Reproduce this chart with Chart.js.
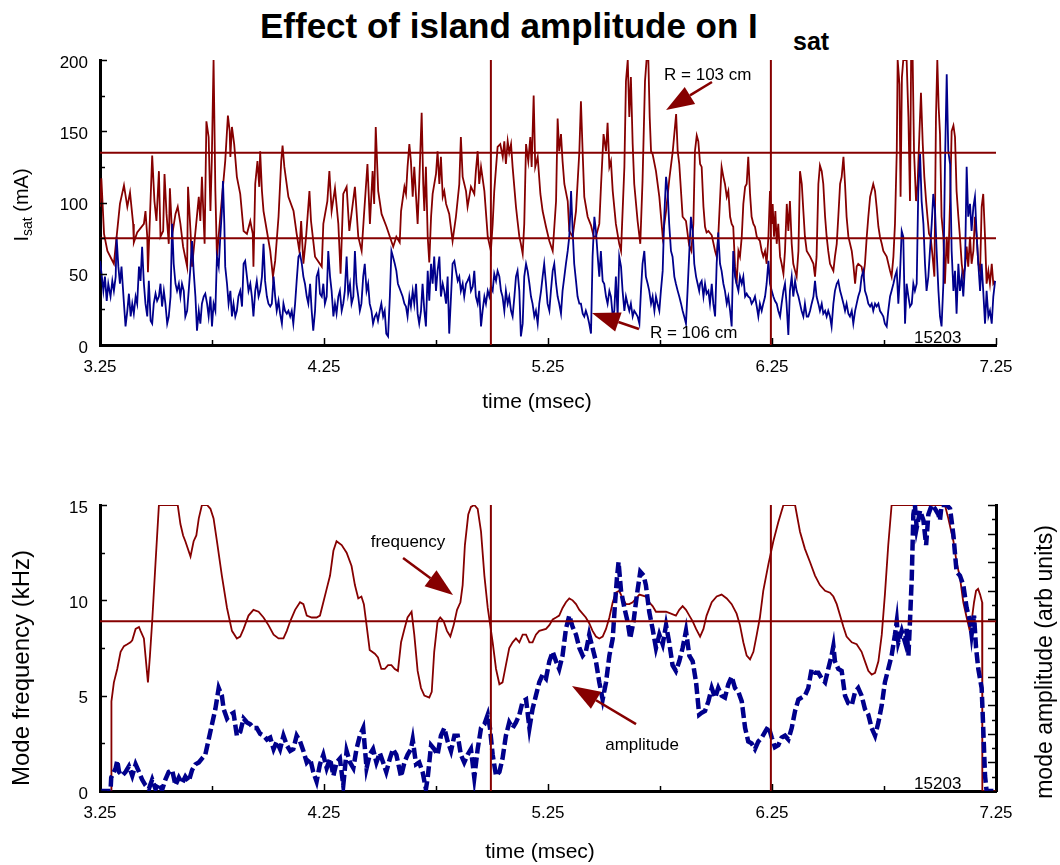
<!DOCTYPE html>
<html>
<head>
<meta charset="utf-8">
<script src="https://cdn.jsdelivr.net/npm/chart.js@4.4.0/dist/chart.umd.min.js"></script>
<style>
  body { margin:0; background:#fff; width:1060px; height:865px; position:relative; overflow:hidden;
         font-family:"Liberation Sans", Arial, sans-serif; color:#000; }
  #title { position:absolute; left:260px; top:6px; font-weight:bold; font-size:35px; line-height:40px; white-space:nowrap; }
  #titleSub { position:absolute; left:793px; top:26px; font-weight:bold; font-size:25px; line-height:30px; }
  canvas { position:absolute; left:0; }
  #isatChart { top:0; }
  #modeChart { top:440px; }
</style>
</head>
<body>
<div id="title">Effect of island amplitude on I</div>
<div id="titleSub">sat</div>
<canvas id="isatChart" width="1060" height="440"></canvas>
<canvas id="modeChart" width="1060" height="425"></canvas>
<script>
// ---- axes ----
const timeTicks  = [3.25, 3.75, 4.25, 4.75, 5.25, 5.75, 6.25, 6.75, 7.25];
const timeLabels = ['3.25', '', '4.25', '', '5.25', '', '6.25', '', '7.25'];
const isatTicks  = [0, 25, 50, 75, 100, 125, 150, 175, 200];
const isatLabels = ['0', '', '50', '', '100', '', '150', '', '200'];
const freqTicks  = [0, 2.5, 5, 7.5, 10, 12.5, 15];
const freqLabels = ['0', '', '5', '', '10', '', '15'];
const ampTicks   = [0, 0.75, 1.5, 2.25, 3, 3.75, 4.5, 5.25, 6, 6.75, 7.5, 8.25, 9, 9.75, 10.5, 11.25, 12, 12.75, 13.5, 14.25, 15];

// reference lines
const isatLevels = [135, 75];
const freqLevels = [8.9];
const markTimes  = [4.995, 6.245];

// ---- Isat at R = 103 cm  [time (msec), mA] ----
const isat103 = [
[3.250,97],[3.256,117],[3.268,78],[3.283,66],[3.312,57],[3.339,99],[3.357,112],[3.372,97],[3.384,107],[3.398,85],[3.401,72],[3.416,79],[3.446,85],[3.453,94],[3.461,76],[3.464,51],[3.473,90],[3.483,133],[3.493,101],[3.502,87],[3.513,122],[3.520,76],[3.532,80],[3.538,120],[3.547,92],[3.557,71],[3.562,110],[3.572,77],[3.587,92],[3.597,97],[3.609,85],[3.621,69],[3.639,55],[3.643,111],[3.654,80],[3.661,55],[3.691,104],[3.698,87],[3.705,118],[3.717,71],[3.725,157],[3.735,146],[3.743,94],[3.749,129],[3.757,200],[3.765,108],[3.772,62],[3.787,90],[3.809,129],[3.821,161],[3.829,150],[3.832,132],[3.839,153],[3.849,141],[3.861,118],[3.876,106],[3.891,80],[3.906,78],[3.921,87],[3.932,78],[3.935,55],[3.943,113],[3.953,129],[3.961,111],[3.965,136],[3.973,108],[3.980,94],[3.995,80],[4.010,66],[4.022,48],[4.032,59],[4.047,90],[4.059,129],[4.065,140],[4.073,125],[4.091,104],[4.114,94],[4.128,78],[4.140,66],[4.148,87],[4.158,57],[4.170,76],[4.185,108],[4.192,87],[4.210,62],[4.240,55],[4.247,85],[4.265,101],[4.274,122],[4.284,94],[4.299,110],[4.314,85],[4.324,50],[4.336,106],[4.351,111],[4.363,80],[4.388,111],[4.403,76],[4.418,66],[4.428,90],[4.444,127],[4.455,85],[4.467,122],[4.474,99],[4.481,153],[4.492,108],[4.507,92],[4.529,83],[4.544,76],[4.559,69],[4.573,76],[4.588,72],
[4.594,94],[4.609,111],[4.616,106],[4.623,125],[4.631,141],[4.638,129],[4.646,104],[4.653,125],[4.661,104],[4.668,85],[4.675,113],[4.686,163],[4.693,113],[4.698,94],[4.705,125],[4.713,76],[4.720,58],[4.728,90],[4.735,106],[4.750,120],[4.757,136],[4.765,113],[4.772,132],[4.780,104],[4.787,108],[4.795,99],[4.809,92],[4.824,73],[4.839,90],[4.854,113],[4.861,146],[4.869,118],[4.884,108],[4.891,97],[4.906,111],[4.921,106],[4.928,122],[4.936,136],[4.943,113],[4.951,125],[4.966,108],[4.981,76],[4.995,66],[5.003,85],[5.010,108],[5.025,139],[5.037,141],[5.048,132],[5.055,143],[5.062,127],[5.070,143],[5.077,135],[5.085,141],[5.092,125],[5.107,97],[5.114,87],[5.122,76],[5.129,71],[5.137,64],[5.144,85],[5.152,141],[5.162,129],[5.171,146],[5.177,125],[5.186,175],[5.193,125],[5.204,132],[5.216,106],[5.226,94],[5.241,83],[5.256,73],[5.271,66],[5.286,101],[5.293,159],[5.300,136],[5.308,148],[5.315,129],[5.323,113],[5.338,101],[5.345,80],[5.360,76],[5.375,94],[5.390,136],[5.397,171],[5.405,134],[5.412,104],[5.427,90],[5.442,84],[5.454,76],[5.464,76],[5.479,85],[5.487,113],[5.498,148],[5.509,136],[5.516,156],[5.524,125],[5.531,129],[5.539,108],[5.553,85],[5.568,71],[5.576,66],[5.591,125],[5.598,185],[5.606,200],[5.613,160],[5.620,188],[5.628,141],[5.635,113],[5.650,87],[5.662,71],[5.672,115],[5.683,185],[5.690,200],[5.698,200],[5.704,160],[5.710,136],[5.717,134],[5.732,122],[5.747,104],[5.762,76],[5.777,94],[5.792,117],[5.807,136],[5.822,162],[5.829,136],[5.836,127],[5.851,90],[5.866,87],[5.880,70],[5.890,66],[5.899,85],[5.906,136],[5.914,147],
[5.921,143],[5.929,127],[5.936,125],[5.944,97],[5.951,83],[5.958,79],[5.966,80],[5.981,77],[5.996,66],[6.003,62],[6.010,76],[6.025,125],[6.033,118],[6.040,113],[6.048,104],[6.055,108],[6.063,90],[6.070,85],[6.077,83],[6.085,55],[6.092,43],[6.100,66],[6.107,62],[6.115,76],[6.122,99],[6.130,111],[6.137,113],[6.144,132],[6.152,106],[6.159,90],[6.167,85],[6.174,83],[6.182,76],[6.196,73],[6.204,66],[6.211,62],[6.219,66],[6.226,57],[6.234,76],[6.241,108],[6.249,85],[6.253,99],[6.259,76],[6.265,94],[6.271,71],[6.278,85],[6.286,62],[6.293,57],[6.301,50],[6.308,66],[6.316,99],[6.323,80],[6.330,101],[6.338,71],[6.345,57],[6.353,52],[6.360,48],[6.368,66],[6.375,122],[6.383,113],[6.390,94],[6.397,76],[6.405,66],[6.420,62],[6.435,57],[6.442,48],[6.449,62],[6.457,113],[6.464,126],[6.472,122],[6.479,113],[6.487,90],[6.494,76],[6.501,66],[6.509,57],[6.524,52],[6.531,62],[6.539,71],[6.546,90],[6.554,113],[6.561,118],[6.569,132],[6.576,113],[6.583,90],[6.591,76],[6.606,66],[6.613,57],[6.621,43],[6.628,55],[6.635,57],[6.650,55],[6.658,48],[6.665,57],[6.673,76],[6.680,90],[6.688,104],[6.702,113],[6.710,108],[6.717,97],[6.725,83],[6.732,76],[6.740,71],[6.747,66],[6.762,62],[6.777,52],[6.784,48],[6.792,62],[6.799,85],[6.807,136],[6.811,200],[6.819,183],[6.824,104],[6.830,188],[6.836,200],[6.851,200],[6.859,160],[6.866,101],[6.871,200],[6.878,200],[6.884,136],[6.893,101],[6.900,113],[6.908,148],[6.915,177],[6.923,141],[6.930,118],[6.938,101],[6.944,90],[6.951,78],[6.958,76],[6.967,62],[6.975,48],[6.982,160],[6.988,200],[6.994,167],[7.000,148],[7.007,90],[7.015,76],[7.022,43],[7.030,76],[7.037,57],[7.045,101],[7.052,150],[7.060,154],[7.067,146],[7.074,108],[7.082,90],[7.089,76],[7.097,57],[7.104,48],[7.112,55],[7.119,69],[7.126,55],[7.134,76],[7.141,57],[7.149,66],[7.156,90],[7.164,76],[7.171,57],[7.179,52],[7.186,97],[7.193,106],[7.201,76],[7.208,43],[7.216,52],[7.223,43],[7.231,57],[7.238,43],[7.246,45]
];

// ---- Isat at R = 106 cm  [time (msec), mA] ----
const isat106 = [
[3.250,59],[3.257,50],[3.265,38],[3.272,48],[3.280,31],[3.287,43],[3.297,34],[3.305,45],[3.312,38],[3.320,48],[3.324,76],[3.332,55],[3.339,43],[3.346,55],[3.357,29],[3.364,13],[3.372,24],[3.379,36],[3.387,20],[3.394,29],[3.401,22],[3.409,34],[3.416,29],[3.424,55],[3.431,45],[3.438,69],[3.446,43],[3.453,29],[3.461,20],[3.468,45],[3.476,17],[3.483,15],[3.490,29],[3.498,36],[3.505,31],[3.513,34],[3.520,43],[3.527,27],[3.535,38],[3.542,29],[3.550,15],[3.557,20],[3.565,34],[3.572,85],[3.579,57],[3.587,43],[3.594,38],[3.602,43],[3.609,34],[3.616,43],[3.624,38],[3.631,20],[3.639,24],[3.646,38],[3.654,55],[3.661,73],[3.668,52],[3.676,34],[3.683,10],[3.691,24],[3.698,15],[3.705,29],[3.713,34],[3.720,36],[3.728,29],[3.735,20],[3.743,34],[3.750,13],[3.757,29],[3.765,24],[3.772,62],[3.780,55],[3.787,76],[3.794,94],[3.799,115],[3.805,85],[3.809,55],[3.817,43],[3.824,29],[3.832,38],[3.839,20],[3.846,29],[3.854,20],[3.861,24],[3.868,34],[3.876,38],[3.884,27],[3.891,57],[3.898,59],[3.906,48],[3.913,38],[3.921,43],[3.928,34],[3.935,20],[3.943,38],[3.950,45],[3.958,34],[3.965,38],[3.973,48],[3.980,71],[3.987,45],[3.995,34],[4.002,29],[4.010,27],[4.017,29],[4.025,48],[4.032,34],[4.039,24],[4.047,31],[4.054,22],[4.062,15],[4.069,29],[4.076,24],[4.084,22],[4.091,24],[4.099,20],[4.106,24],[4.113,15],[4.121,29],[4.128,45],[4.136,62],[4.143,64],[4.151,57],[4.158,48],[4.165,43],[4.173,34],[4.180,29],[4.188,43],[4.195,24],[4.202,10],[4.210,24],[4.217,48],[4.225,52],[4.232,36],[4.240,34],[4.247,43],[4.254,29],[4.262,34],[4.269,66],[4.277,48],[4.284,38],[4.292,20],[4.299,29],[4.306,22],[4.314,34],[4.321,38],[4.329,24],[4.336,29],[4.343,38],[4.351,62],[4.358,36],[4.366,43],[4.373,29],[4.381,34],[4.388,66],[4.395,43],[4.403,34],[4.410,24],[4.417,29],[4.425,48],[4.432,57],[4.440,38],[4.447,43],[4.454,29],[4.462,24],[4.469,15],[4.477,20],[4.484,22],[4.491,17],[4.499,24],[4.506,29],[4.514,20],[4.521,24],[4.528,8],[4.536,6],[4.544,34],[4.551,66],[4.558,62],[4.566,57],[4.573,52],[4.580,43],
[4.601,34],[4.609,29],[4.616,27],[4.623,20],[4.631,34],[4.638,27],[4.646,38],[4.653,29],[4.661,43],[4.668,22],[4.675,15],[4.683,24],[4.690,43],[4.698,24],[4.705,13],[4.713,52],[4.720,31],[4.728,57],[4.735,43],[4.742,62],[4.750,38],[4.757,52],[4.765,62],[4.772,34],[4.780,43],[4.787,38],[4.795,29],[4.802,48],[4.809,8],[4.817,34],[4.824,57],[4.832,59],[4.839,52],[4.847,45],[4.854,48],[4.861,38],[4.869,43],[4.876,34],[4.884,43],[4.891,45],[4.899,48],[4.906,38],[4.914,41],[4.921,52],[4.928,34],[4.936,29],[4.943,38],[4.951,13],[4.958,24],[4.966,34],[4.973,29],[4.981,38],[4.988,34],[4.995,41],[5.003,38],[5.010,50],[5.018,45],[5.025,52],[5.033,48],[5.040,38],[5.047,34],[5.055,24],[5.062,38],[5.070,29],[5.077,34],[5.085,24],[5.092,20],[5.100,34],[5.107,48],[5.114,52],[5.122,38],[5.129,6],[5.137,15],[5.144,48],[5.152,57],[5.159,52],[5.167,43],[5.174,34],[5.181,29],[5.189,20],[5.196,24],[5.204,15],[5.211,29],[5.219,38],[5.226,48],[5.233,57],[5.241,43],[5.248,29],[5.256,24],[5.263,38],[5.271,52],[5.278,57],[5.286,43],[5.293,34],[5.300,29],[5.308,22],[5.315,38],[5.323,48],[5.330,57],[5.338,66],[5.345,76],[5.353,108],[5.360,80],[5.367,57],[5.375,45],[5.382,34],[5.390,29],[5.397,29],[5.405,22],[5.412,20],[5.419,24],[5.427,20],[5.434,15],[5.442,8],[5.449,62],[5.457,90],[5.464,80],[5.472,62],[5.479,48],[5.486,66],[5.494,45],[5.501,43],[5.509,34],[5.516,29],[5.524,38],[5.531,34],[5.539,20],[5.546,24],[5.553,48],[5.561,20],[5.568,62],[5.576,55],[5.583,38],[5.591,24],[5.598,34],[5.605,29],[5.613,24],[5.620,29],[5.628,20],[5.635,24],[5.643,22],[5.650,20],[5.658,15],[5.665,38],[5.672,57],[5.680,66],[5.687,48],[5.695,43],[5.702,38],[5.710,29],[5.717,34],[5.725,24],[5.732,34],[5.739,29],[5.747,24],[5.754,38],[5.762,52],[5.769,90],[5.777,118],[5.784,108],[5.791,85],[5.799,66],[5.806,62],[5.814,48],[5.821,43],[5.829,38],[5.836,34],[5.844,29],[5.851,24],[5.858,20],[5.866,15],[5.873,38],[5.881,66],[5.888,90],[5.896,80],[5.903,57],[5.911,48],[5.918,43],[5.925,38],
[5.929,43],[5.936,45],[5.944,34],[5.951,43],[5.958,36],[5.966,38],[5.973,29],[5.981,43],[5.988,29],[5.996,20],[6.003,57],[6.010,79],[6.018,57],[6.025,52],[6.033,43],[6.040,38],[6.048,29],[6.055,34],[6.063,24],[6.070,13],[6.077,66],[6.085,48],[6.092,43],[6.100,38],[6.107,48],[6.115,43],[6.122,48],[6.130,34],[6.137,36],[6.144,34],[6.152,33],[6.159,29],[6.167,31],[6.174,34],[6.182,27],[6.189,20],[6.196,29],[6.204,24],[6.211,29],[6.219,34],[6.226,43],[6.234,59],[6.241,43],[6.249,38],[6.256,34],[6.263,31],[6.271,29],[6.278,24],[6.286,20],[6.293,29],[6.301,38],[6.308,43],[6.315,29],[6.323,7],[6.330,38],[6.338,48],[6.345,34],[6.353,45],[6.360,38],[6.368,34],[6.375,29],[6.382,24],[6.390,20],[6.397,29],[6.405,20],[6.412,20],[6.420,24],[6.427,29],[6.435,34],[6.442,45],[6.449,34],[6.457,29],[6.464,24],[6.472,29],[6.479,22],[6.487,24],[6.494,20],[6.501,24],[6.509,20],[6.516,13],[6.524,29],[6.531,38],[6.539,43],[6.546,45],[6.554,38],[6.561,34],[6.569,29],[6.576,24],[6.583,29],[6.591,22],[6.598,20],[6.606,24],[6.613,15],[6.621,24],[6.628,29],[6.635,34],[6.643,38],[6.650,48],[6.658,52],[6.665,38],[6.673,34],[6.680,29],[6.688,27],[6.695,29],[6.702,24],[6.710,29],[6.717,27],[6.725,29],[6.732,24],[6.740,22],[6.747,20],[6.754,15],[6.762,13],[6.769,24],[6.777,34],[6.784,38],[6.792,43],[6.799,48],[6.807,52],[6.814,29],[6.821,48],[6.829,80],[6.836,76],[6.844,15],[6.851,43],[6.859,34],[6.866,27],[6.874,29],[6.881,43],[6.888,38],[6.896,43],[6.903,108],[6.911,134],[6.918,101],[6.926,85],[6.933,57],[6.940,38],[6.948,48],[6.955,66],[6.963,85],[6.970,106],[6.978,94],[6.985,66],[6.993,38],[7.000,20],[7.007,13],[7.015,43],[7.022,125],[7.030,190],[7.037,136],[7.045,127],[7.052,66],[7.060,38],[7.067,52],[7.074,22],[7.082,57],[7.089,38],[7.097,48],[7.104,34],[7.112,57],[7.119,125],[7.126,90],[7.134,99],[7.141,80],[7.149,97],[7.156,104],[7.164,76],[7.171,57],[7.179,38],[7.186,57],[7.193,38],[7.201,15],[7.208,38],[7.216,20],[7.223,24],[7.231,15],[7.238,34],[7.246,45]
];

// ---- mode frequency [time (msec), kHz] ----
const modeFreq = [
[3.250,0],[3.300,0],[3.301,4.7],[3.312,5.7],[3.327,6.4],[3.342,7.3],[3.357,7.6],[3.372,7.7],[3.386,7.8],[3.394,7.9],[3.409,8.5],[3.424,8.6],[3.431,8.4],[3.446,8.0],[3.453,7.1],[3.464,5.7],[3.473,7.1],[3.483,8.9],[3.498,12.0],[3.513,15],[3.597,15],[3.609,14.0],[3.621,13.4],[3.631,13.1],[3.654,12.3],[3.668,13.1],[3.680,13.4],[3.691,14.3],[3.705,15],[3.728,15],[3.743,14.8],[3.757,14.3],[3.772,13.1],[3.794,11.3],[3.817,9.6],[3.839,8.4],[3.861,8.0],[3.876,8.1],[3.891,8.5],[3.913,9.2],[3.935,9.5],[3.958,9.4],[3.980,9.1],[4.002,8.7],[4.025,8.2],[4.047,8.0],[4.069,8.0],[4.084,8.4],[4.099,8.9],[4.121,9.5],[4.143,9.9],[4.158,9.8],[4.173,9.2],[4.195,9.1],[4.217,9.1],[4.232,9.2],[4.247,9.9],[4.262,10.6],[4.277,11.3],[4.292,12.6],[4.306,13.1],[4.329,12.9],[4.351,12.5],[4.373,11.8],[4.388,10.8],[4.403,10.1],[4.417,10.2],[4.428,9.8],[4.440,8.7],[4.454,7.4],[4.477,7.2],[4.491,7.0],[4.506,6.4],[4.521,6.4],[4.536,6.6],[4.551,6.6],[4.566,6.4],[4.580,6.3],[4.594,7.8],[4.609,8.5],[4.623,9.1],[4.641,9.4],[4.653,8.2],[4.668,6.3],[4.683,5.4],[4.698,5.0],[4.720,4.9],[4.731,5.2],[4.742,7.3],[4.757,8.9],[4.769,9.1],[4.784,8.9],[4.799,8.4],[4.814,8.1],[4.829,8.7],[4.844,9.5],[4.859,9.9],[4.869,10.8],[4.879,12.9],[4.894,14.5],[4.906,14.9],[4.921,15],[4.936,14.8],[4.951,13.6],[4.966,11.3],[4.981,9.6],[4.992,8.7],[5.003,7.8],[5.018,6.4],[5.033,5.6],[5.047,5.7],[5.062,6.6],[5.077,7.5],[5.092,7.8],[5.107,8.0],[5.122,7.8],[5.137,8.2],[5.152,8.2],[5.167,7.8],[5.181,7.8],[5.196,8.2],[5.211,8.4],[5.241,8.5],[5.256,8.7],[5.271,9.0],[5.286,9.1],[5.300,9.2],[5.315,9.6],[5.330,9.9],[5.345,10.1],[5.360,10.0],[5.375,9.8],[5.390,9.5],[5.419,9.1],[5.434,8.8],[5.449,8.4],[5.464,8.1],[5.479,8.0],[5.494,8.1],[5.509,8.5],[5.524,9.1],[5.539,9.9],[5.553,10.4],[5.568,10.5],[5.583,10.1],[5.598,9.8],[5.613,9.8],[5.628,9.9],[5.658,10.3],[5.687,10.2],[5.702,9.9],[5.717,9.7],[5.732,9.4],[5.777,9.4],[5.821,9.2],[5.836,9.5],[5.851,9.7],[5.866,9.5],[5.881,9.2],[5.896,8.9],[5.911,8.5],[5.929,8.1],[5.944,8.5],[5.958,9.2],[5.981,9.9],[6.003,10.2],[6.025,10.3],[6.048,10.1],[6.070,9.8],[6.092,9.3],[6.107,8.7],[6.122,7.8],[6.137,7.1],[6.152,6.9],[6.167,7.3],[6.182,8.2],[6.196,9.1],[6.211,10.5],[6.234,11.9],[6.256,13.1],[6.278,14.1],[6.301,15],[6.353,15],[6.375,13.6],[6.397,12.7],[6.420,12.0],[6.442,11.3],[6.464,10.8],[6.487,10.5],[6.509,10.4],[6.524,10.2],[6.539,9.8],[6.554,9.2],[6.569,8.6],[6.583,8.1],[6.606,7.8],[6.628,7.7],[6.650,7.3],[6.665,6.8],[6.680,6.3],[6.695,6.1],[6.710,6.2],[6.725,6.8],[6.740,8.2],[6.754,10.3],[6.769,12.9],[6.784,15],[7.022,15],[7.037,14.3],[7.060,13.1],[7.074,12.0],[7.089,11.2],[7.104,9.9],[7.119,9.1],[7.131,8.5],[7.141,8.9],[7.152,9.9],[7.161,10.5],[7.170,10.6],[7.179,10.3],[7.188,9.9],[7.189,0],[7.250,0]
];

// ---- mode amplitude [time (msec), arb units] ----
const modeAmp = [
[3.250,0],[3.297,0],[3.300,0.7],[3.320,1.2],[3.327,1.6],[3.335,1.0],[3.349,0.8],[3.364,1.0],[3.379,1.3],[3.394,0.8],[3.409,1.4],[3.424,1.0],[3.438,0.6],[3.453,0.3],[3.468,0.1],[3.483,0.6],[3.498,0.1],[3.513,0.4],[3.527,0.05],[3.542,0.6],[3.557,1.0],[3.572,1.1],[3.587,0.3],[3.602,0.7],[3.616,0.4],[3.631,0.75],[3.646,0.5],[3.661,1.1],[3.676,1.4],[3.691,1.5],[3.705,1.7],[3.720,1.9],[3.735,2.7],[3.750,3.5],[3.765,4.3],[3.780,5.4],[3.794,5.0],[3.802,4.3],[3.817,3.8],[3.832,4.0],[3.846,4.1],[3.861,2.9],[3.876,3.1],[3.891,3.8],[3.906,3.6],[3.921,3.5],[3.935,3.3],[3.950,3.3],[3.965,3.0],[3.980,2.9],[3.995,2.7],[4.010,2.8],[4.025,2.2],[4.039,2.6],[4.054,2.2],[4.069,2.9],[4.084,2.4],[4.099,2.1],[4.113,2.2],[4.128,2.9],[4.143,2.6],[4.158,2.1],[4.173,1.5],[4.188,1.7],[4.202,1.0],[4.217,0.5],[4.232,1.4],[4.247,1.9],[4.262,1.2],[4.277,1.7],[4.292,0.8],[4.306,1.5],[4.321,1.7],[4.336,0.3],[4.351,2.1],[4.366,1.5],[4.381,1.2],[4.395,2.2],[4.410,2.9],[4.425,3.3],[4.440,1.2],[4.454,1.9],[4.469,2.2],[4.484,1.5],[4.499,2.0],[4.514,1.5],[4.528,1.0],[4.544,1.7],[4.558,2.2],[4.573,1.9],[4.594,0.75],[4.609,1.5],[4.623,1.9],[4.638,2.2],[4.646,2.7],[4.661,1.4],[4.675,1.5],[4.690,1.0],[4.705,0.1],[4.713,0.7],[4.728,2.4],[4.742,2.2],[4.757,1.9],[4.772,2.9],[4.787,3.3],[4.802,2.6],[4.817,2.1],[4.832,2.9],[4.847,2.9],[4.861,1.9],[4.876,1.5],[4.891,1.9],[4.906,2.2],[4.921,0.7],[4.936,2.2],[4.951,3.3],[4.966,3.5],[4.981,4.0],[4.991,3.3],[5.003,1.9],[5.018,0.8],[5.033,1.0],[5.047,1.7],[5.062,2.9],[5.077,3.6],[5.092,3.3],[5.107,3.6],[5.122,4.0],[5.137,4.7],[5.152,4.8],[5.167,3.3],[5.181,4.3],[5.196,5.0],[5.211,5.7],[5.226,6.1],[5.241,5.9],[5.256,6.8],[5.271,7.3],[5.286,6.8],[5.300,6.4],[5.315,7.1],[5.330,8.5],[5.345,9.2],[5.360,8.6],[5.375,8.2],[5.390,7.5],[5.405,7.1],[5.419,7.3],[5.434,8.2],[5.449,7.5],[5.464,6.8],[5.479,5.7],[5.494,4.8],[5.509,5.7],[5.524,7.1],[5.539,8.0],[5.549,9.8],[5.558,11.2],[5.565,12.0],[5.576,10.5],[5.591,9.6],[5.605,8.9],[5.617,8.0],[5.632,8.9],[5.647,10.3],[5.662,11.5],[5.677,11.3],[5.687,10.8],[5.702,9.4],[5.717,8.5],[5.732,7.5],[5.747,8.2],[5.762,7.7],[5.777,8.7],[5.791,7.8],[5.806,6.6],[5.821,6.3],[5.836,6.8],[5.851,7.5],[5.866,8.4],[5.881,7.1],[5.896,6.8],[5.911,5.7],[5.925,4.0],[5.936,4.1],[5.951,4.2],[5.966,4.7],[5.981,5.4],[5.996,4.9],[6.010,5.4],[6.025,5.0],[6.040,4.9],[6.055,5.6],[6.070,6.0],[6.085,5.4],[6.100,5.2],[6.115,4.7],[6.130,3.3],[6.144,2.6],[6.159,2.5],[6.174,2.2],[6.189,2.6],[6.204,2.8],[6.219,3.1],[6.234,3.4],[6.249,2.8],[6.263,2.3],[6.278,2.4],[6.293,2.8],[6.308,2.9],[6.323,2.7],[6.338,3.3],[6.353,4.2],[6.368,4.8],[6.382,4.9],[6.397,5.0],[6.412,5.4],[6.427,6.4],[6.442,6.2],[6.457,6.2],[6.472,5.9],[6.487,5.7],[6.501,6.4],[6.516,7.1],[6.524,7.6],[6.531,6.8],[6.546,6.4],[6.561,6.3],[6.576,5.0],[6.591,4.6],[6.606,4.5],[6.621,5.2],[6.635,5.4],[6.650,5.0],[6.665,4.3],[6.680,4.0],[6.695,3.3],[6.710,2.9],[6.725,3.6],[6.740,4.5],[6.754,5.7],[6.769,6.4],[6.784,7.1],[6.799,8.2],[6.807,8.9],[6.814,7.8],[6.829,8.4],[6.844,7.8],[6.851,8.5],[6.859,7.1],[6.866,8.9],[6.874,11.2],[6.881,14.5],[6.888,15],[6.896,13.8],[6.911,14.7],[6.926,14.2],[6.938,12.9],[6.948,14.5],[6.963,15],[6.978,14.8],[6.993,14.5],[7.000,14.2],[7.007,15],[7.030,15],[7.045,14.8],[7.060,13.4],[7.074,11.5],[7.089,11.3],[7.104,10.8],[7.119,9.6],[7.134,8.9],[7.141,8.2],[7.152,9.2],[7.161,7.5],[7.171,6.4],[7.186,5.4],[7.193,3.3],[7.201,0.8],[7.208,0],[7.250,0]
];

const RED = '#860000';
const BLUE = '#00008c';
const FONT = '"Liberation Sans", Arial, sans-serif';

Chart.defaults.font.family = FONT;
Chart.defaults.font.size = 17;
Chart.defaults.color = '#000';

function pts(pairs) { return pairs.map(p => ({ x: p[0], y: p[1] })); }
function fixedTicks(values) { return scale => { scale.ticks = values.map(v => ({ value: v })); }; }
function hLine(v, axis) { return { data: [{ x: 3.25, y: v }, { x: 7.25, y: v }], yAxisID: axis, borderColor: RED, borderWidth: 2, pointRadius: 0 }; }
function vLine(t, axis, top) { return { data: [{ x: t, y: 0 }, { x: t, y: top }], yAxisID: axis, borderColor: RED, borderWidth: 2, pointRadius: 0 }; }

function drawArrow(ctx, x1, y1, x2, y2) {
  const a = Math.atan2(y2 - y1, x2 - x1), hl = 28, hw = 10;
  const bx = x2 - hl * Math.cos(a), by = y2 - hl * Math.sin(a);
  ctx.strokeStyle = RED; ctx.fillStyle = RED; ctx.lineWidth = 2.5;
  ctx.beginPath(); ctx.moveTo(x1, y1); ctx.lineTo(bx, by); ctx.stroke();
  ctx.beginPath(); ctx.moveTo(x2, y2);
  ctx.lineTo(bx + hw * Math.sin(a), by - hw * Math.cos(a));
  ctx.lineTo(bx - hw * Math.sin(a), by + hw * Math.cos(a));
  ctx.closePath(); ctx.fill();
}

// inward ticks, notes with arrows, axis titles
const decor = {
  id: 'decor',
  afterDatasetsDraw(chart, args, o) {
    const ctx = chart.ctx, area = chart.chartArea;
    ctx.save();
    ctx.strokeStyle = '#000'; ctx.lineWidth = 1.5;
    for (const [id, lens] of Object.entries(o.tickLen || {})) {
      const s = chart.scales[id];
      s.ticks.forEach((t, i) => {
        const major = (o.alternate || []).includes(id) ? i % 2 === 0 : t.label !== '';
        const len = major ? lens[0] : lens[1];
        const p = Math.round(s.getPixelForValue(t.value)) + 0.5;
        ctx.beginPath();
        if (id === 'x') { ctx.moveTo(p, area.bottom); ctx.lineTo(p, area.bottom - len); }
        else if (s.position === 'left') { ctx.moveTo(area.left, p); ctx.lineTo(area.left + len, p); }
        else { ctx.moveTo(area.right, p); ctx.lineTo(area.right - len, p); }
        ctx.stroke();
      });
    }
    (o.notes || []).forEach(n => {
      const xs = chart.scales.x, ys = chart.scales[n.axis];
      ctx.font = '17px ' + FONT; ctx.fillStyle = '#000';
      ctx.textAlign = n.align; ctx.textBaseline = 'middle';
      ctx.fillText(n.text, xs.getPixelForValue(n.at[0]), ys.getPixelForValue(n.at[1]));
      if (n.from) drawArrow(ctx, xs.getPixelForValue(n.from[0]), ys.getPixelForValue(n.from[1]),
                                 xs.getPixelForValue(n.to[0]), ys.getPixelForValue(n.to[1]));
    });
    (o.titles || []).forEach(tt => {
      ctx.save();
      ctx.translate(tt.x, tt.y);
      if (tt.rot) ctx.rotate(-Math.PI / 2);
      ctx.fillStyle = '#000'; ctx.textBaseline = 'middle'; ctx.textAlign = 'left';
      let total = 0;
      tt.parts.forEach(p => { ctx.font = p[1] + 'px ' + FONT; total += ctx.measureText(p[0]).width; });
      let cx = -total / 2;
      tt.parts.forEach(p => {
        ctx.font = p[1] + 'px ' + FONT;
        ctx.fillText(p[0], cx, p[2]);
        cx += ctx.measureText(p[0]).width;
      });
      ctx.restore();
    });
    ctx.restore();
  }
};

function timeAxis(h) {
  return {
    type: 'linear', min: 3.25, max: 7.25,
    afterBuildTicks: fixedTicks(timeTicks),
    afterFit: s => { s.height = h; },
    grid: { display: false, drawTicks: false, tickLength: 0 },
    border: { display: true, color: '#000', width: 3 },
    ticks: { callback: (v, i) => timeLabels[i], padding: 12, autoSkip: false, maxRotation: 0 }
  };
}

new Chart(document.getElementById('isatChart'), {
  type: 'line',
  plugins: [decor],
  data: {
    datasets: [
      hLine(isatLevels[0], 'y'), hLine(isatLevels[1], 'y'),
      vLine(markTimes[0], 'y', 200), vLine(markTimes[1], 'y', 200),
      { label: 'R = 106 cm', data: pts(isat106), borderColor: BLUE, borderWidth: 1.8, pointRadius: 0 },
      { label: 'R = 103 cm', data: pts(isat103), borderColor: RED, borderWidth: 1.8, pointRadius: 0 }
    ]
  },
  options: {
    responsive: false, animation: false, events: [],
    layout: { padding: { top: 60, right: 64, left: 0, bottom: 0 } },
    plugins: {
      legend: { display: false }, tooltip: { enabled: false },
      decor: {
        tickLen: { x: [7, 5], y: [7, 5] },
        notes: [
          { text: 'R = 103 cm', at: [5.768, 189], align: 'left', axis: 'y', from: [5.982, 184.6], to: [5.777, 164.9] },
          { text: 'R = 106 cm', at: [5.705, 8.4], align: 'left', axis: 'y', from: [5.656, 11.2], to: [5.446, 22.5] },
          { text: '15203', at: [6.99, 5], align: 'center', axis: 'y' }
        ],
        titles: [
          { x: 22, y: 205, rot: true, parts: [['I', 20, 0], ['sat', 14, 6], [' (mA)', 20, 0]] },
          { x: 537, y: 402, parts: [['time (msec)', 21, 0]] }
        ]
      }
    },
    scales: {
      x: timeAxis(95),
      y: {
        type: 'linear', min: 0, max: 200,
        afterBuildTicks: fixedTicks(isatTicks),
        afterFit: s => { s.width = 100; },
        grid: { display: false, drawTicks: false, tickLength: 0 },
        border: { display: true, color: '#000', width: 3 },
        ticks: { callback: (v, i) => isatLabels[i], padding: 12, labelOffset: 3, autoSkip: false }
      }
    }
  }
});

new Chart(document.getElementById('modeChart'), {
  type: 'line',
  plugins: [decor],
  data: {
    datasets: [
      hLine(freqLevels[0], 'y'),
      vLine(markTimes[0], 'y', 15), vLine(markTimes[1], 'y', 15),
      { label: 'amplitude', data: pts(modeAmp), yAxisID: 'y2', borderColor: BLUE, borderWidth: 4.5,
        borderDash: [11, 4], borderCapStyle: 'butt', pointRadius: 0 },
      { label: 'frequency', data: pts(modeFreq), yAxisID: 'y', borderColor: RED, borderWidth: 1.8, pointRadius: 0 }
    ]
  },
  options: {
    responsive: false, animation: false, events: [],
    layout: { padding: { top: 65, right: 0, left: 0, bottom: 0 } },
    plugins: {
      legend: { display: false }, tooltip: { enabled: false },
      decor: {
        tickLen: { x: [7, 5], y: [7, 5], y2: [8, 4] },
        alternate: ['y2'],
        notes: [
          { text: 'frequency', at: [4.625, 13.06], align: 'center', axis: 'y', from: [4.603, 12.22], to: [4.826, 10.28] },
          { text: 'amplitude', at: [5.67, 2.41], align: 'center', axis: 'y', from: [5.643, 3.51], to: [5.357, 5.51] },
          { text: '15203', at: [6.99, 0.33], align: 'center', axis: 'y' }
        ],
        titles: [
          { x: 22, y: 228, rot: true, parts: [['Mode frequency (kHz)', 24, 0]] },
          { x: 1046, y: 222, rot: true, parts: [['mode amplitude (arb units)', 23, 0]] },
          { x: 540, y: 412, parts: [['time (msec)', 21, 0]] }
        ]
      }
    },
    scales: {
      x: timeAxis(74),
      y: {
        type: 'linear', position: 'left', min: 0, max: 15,
        afterBuildTicks: fixedTicks(freqTicks),
        afterFit: s => { s.width = 100; },
        grid: { display: false, drawTicks: false, tickLength: 0 },
        border: { display: true, color: '#000', width: 3 },
        ticks: { callback: (v, i) => freqLabels[i], padding: 12, labelOffset: 3, autoSkip: false }
      },
      y2: {
        type: 'linear', position: 'right', min: 0, max: 15,
        afterBuildTicks: fixedTicks(ampTicks),
        afterFit: s => { s.width = 64; },
        grid: { display: false, drawTicks: false, tickLength: 0 },
        border: { display: true, color: '#000', width: 3 },
        ticks: { display: false }
      }
    }
  }
});
</script>
</body>
</html>
